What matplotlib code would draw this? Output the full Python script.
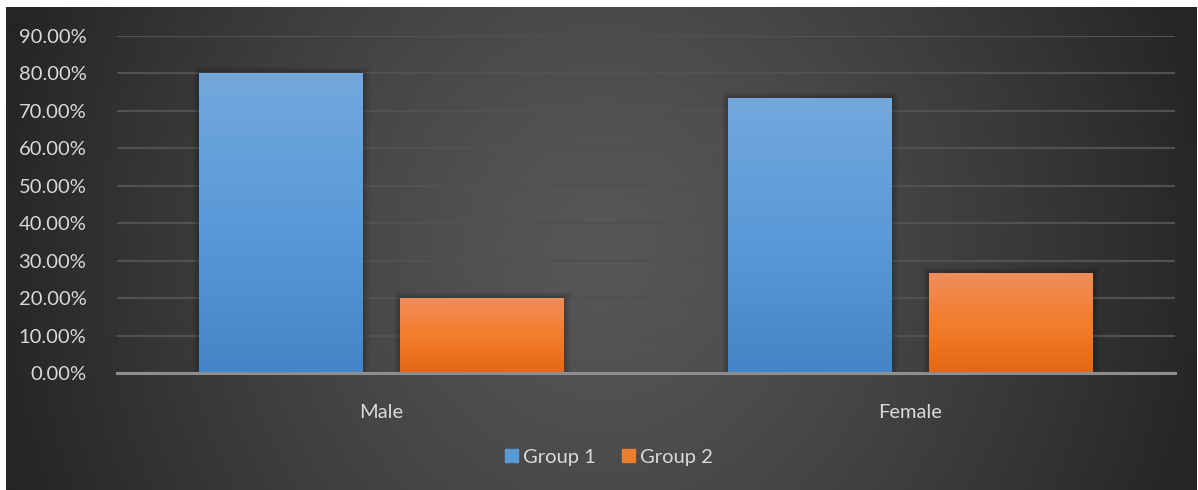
import numpy as np
import matplotlib
matplotlib.use("Agg")
import matplotlib.pyplot as plt
import matplotlib.patheffects as pe
from matplotlib.colors import LinearSegmentedColormap
from matplotlib.ticker import FuncFormatter

categories = ["Male", "Female"]
series_names = ["Group 1", "Group 2"]
group1 = [0.80, 0.7333]
group2 = [0.20, 0.2667]
y_ticks = [0.0, 0.1, 0.2, 0.3, 0.4, 0.5, 0.6, 0.7, 0.8, 0.9]

W, H = 1198, 490
fig = plt.figure(figsize=(W / 100, H / 100), dpi=100)
fig.patch.set_facecolor("white")
plt.rcParams["font.family"] = ["Lato", "DejaVu Sans"]
FS = 14.5

# dark panel with a soft radial glow in the middle
bg = fig.add_axes([6 / W, 0, 1191 / W, 483 / H], zorder=0)
bg.set_axis_off()
ny, nx = 240, 600
yy, xx = np.mgrid[0:ny, 0:nx]
cx, cy = nx * 0.5, ny * 0.5
r = np.sqrt(((xx - cx) / (nx * 0.52)) ** 2 + ((yy - cy) / (ny * 1.4)) ** 2)
r = np.clip(r, 0, 1)
c0, c1 = 0x57 / 255, 0x25 / 255
val = c0 - (c0 - c1) * r ** 1.3
img = np.dstack([val, val, val])
bg.imshow(img, aspect="auto", extent=[0, 1, 0, 1], interpolation="bicubic")
bg.set_xlim(0, 1)
bg.set_ylim(0, 1)

ax = fig.add_axes([117 / W, (H - 373) / H, (1175 - 117) / W, (373 - 36) / H], zorder=1)
ax.patch.set_alpha(0)

x = np.arange(len(categories))
width = 0.31
offset = 0.19

shadow = [
    pe.Stroke(linewidth=9, foreground="black", alpha=0.05),
    pe.Stroke(linewidth=6, foreground="black", alpha=0.07),
    pe.Stroke(linewidth=3, foreground="black", alpha=0.10),
    pe.Normal(),
]

grad_blue = LinearSegmentedColormap.from_list("g1", ["#4385c6", "#5a9ad8", "#73a8dd"])
grad_orange = LinearSegmentedColormap.from_list("g2", ["#e36815", "#f37e2c", "#f08d5b"])

b1 = ax.bar(x - offset, group1, width, color="#5b9bd5", label=series_names[0], zorder=3)
b2 = ax.bar(x + offset, group2, width, color="#ed7d31", label=series_names[1], zorder=3)

ramp = np.linspace(0, 1, 256).reshape(-1, 1)
for bars, cmap in ((b1, grad_blue), (b2, grad_orange)):
    for rect in bars:
        rect.set_path_effects(shadow)
        x0, y0 = rect.get_x(), rect.get_y()
        w, h = rect.get_width(), rect.get_height()
        im = ax.imshow(ramp, cmap=cmap, origin="lower", aspect="auto",
                       extent=[x0, x0 + w, y0, y0 + h], zorder=4)
        im.set_clip_path(rect)

ax.set_xlim(-0.5, len(categories) - 0.5)
ax.set_ylim(0, 0.9)
ax.set_yticks(y_ticks)
ax.yaxis.set_major_formatter(FuncFormatter(lambda v, _: f"{v * 100:.2f}%"))
ax.set_xticks(x)
ax.set_xticklabels(categories)

ax.grid(axis="y", color="#515151", linewidth=1.6, zorder=1)
ax.set_axisbelow(True)
for s in ("top", "right", "left"):
    ax.spines[s].set_visible(False)
ax.spines["bottom"].set_color("#8e8e8e")
ax.spines["bottom"].set_linewidth(2.2)
ax.spines["bottom"].set_zorder(5)

ax.tick_params(axis="y", length=0, pad=22, labelsize=FS, labelcolor="#d9d9d9")
ax.tick_params(axis="x", length=0, pad=22, labelsize=FS, labelcolor="#d9d9d9")

handles = [plt.Rectangle((0, 0), 1, 1, color="#5b9bd5"),
           plt.Rectangle((0, 0), 1, 1, color="#ed7d31")]
leg = fig.legend(handles, series_names, loc="center", bbox_to_anchor=(609 / W, (H - 457) / H),
                 ncol=2, frameon=False, fontsize=FS, labelcolor="#d9d9d9",
                 handlelength=0.65, handleheight=0.65, handletextpad=0.25, columnspacing=1.3)

fig.savefig("out.png", dpi=100, facecolor=fig.get_facecolor())
